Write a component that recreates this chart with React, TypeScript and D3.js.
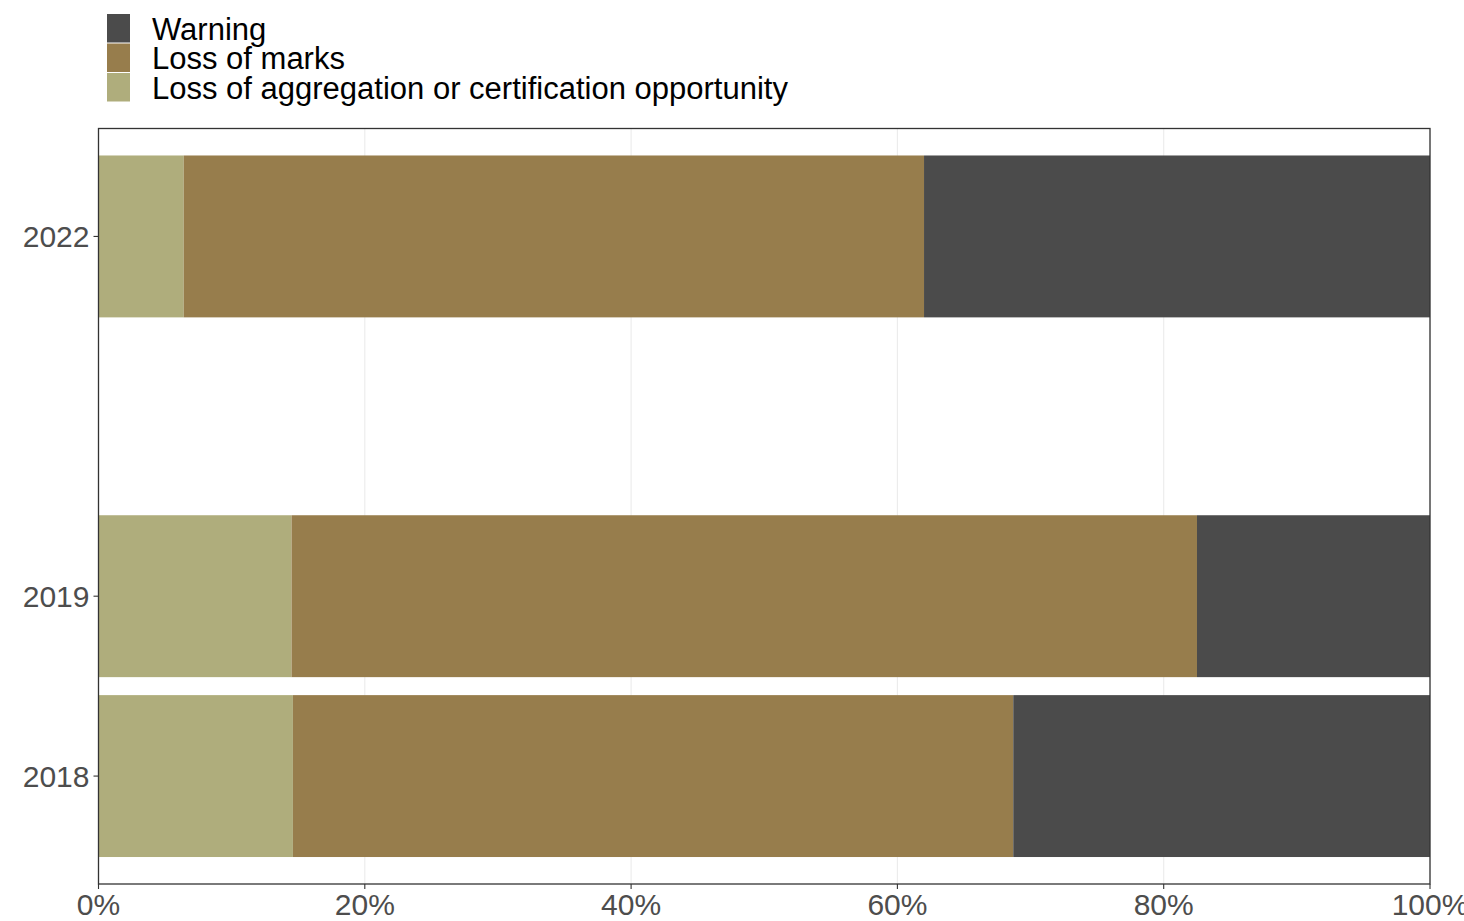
import React from "react";
import * as d3 from "d3";

const years = ["2018", "2019", "2022"];
const yearSlots = [0, 1, 3];
const aggregation = [14.6, 14.5, 6.4];
const marks = [54.1, 68.0, 55.6];
const warning = [31.3, 17.5, 38.0];
const seriesNames = ["Warning", "Loss of marks", "Loss of aggregation or certification opportunity"];
const seriesColors = ["#4b4b4b", "#977d4c", "#afad7c"];
const xTicks = [0, 20, 40, 60, 80, 100];

export default function App() {
  const W = 1464, H = 921;
  const left = 98.5, right = 1430, top = 128.5, bottom = 884;
  const x = d3.scaleLinear().domain([0, 100]).range([left, right]);
  const y = d3.scaleLinear().domain([-0.6, 3.6]).range([bottom, top]);
  const bw = y(-0.6) - y(0.3);

  const rows = years.map((yr, i) => {
    const segs = [
      { key: 2, v0: 0, v1: aggregation[i] },
      { key: 1, v0: aggregation[i], v1: aggregation[i] + marks[i] },
      { key: 0, v0: aggregation[i] + marks[i], v1: aggregation[i] + marks[i] + warning[i] },
    ];
    return { yr, slot: yearSlots[i], segs };
  });

  const font = "Arial, 'Liberation Sans', sans-serif";

  return (
    <svg width={W} height={H} style={{ position: "absolute", left: 0, top: 0, background: "#fff" }} fontFamily={font}>
      <rect x={0} y={0} width={W} height={H} fill="#fff" />
      {xTicks.map((t) => (
        <line key={t} x1={x(t)} x2={x(t)} y1={top} y2={bottom} stroke="#ebebeb" strokeWidth={1.1} />
      ))}
      {rows.map((r) =>
        r.segs.map((s) => (
          <rect
            key={r.yr + "-" + s.key}
            x={x(s.v0)}
            width={Math.min(x(s.v1), right) - x(s.v0)}
            y={y(r.slot) - bw / 2}
            height={bw}
            fill={seriesColors[s.key]}
          />
        ))
      )}
      <rect x={left} y={top} width={right - left} height={bottom - top} fill="none" stroke="#333" strokeWidth={1.3} />
      {xTicks.map((t) => (
        <g key={"xt" + t}>
          <line x1={x(t)} x2={x(t)} y1={bottom} y2={bottom + 5} stroke="#333" strokeWidth={1.1} />
          <text x={x(t)} y={bottom + 31} textAnchor="middle" fontSize={30} fill="#4d4d4d">
            {t + "%"}
          </text>
        </g>
      ))}
      {years.map((yr, i) => (
        <g key={"yt" + yr}>
          <line x1={left - 5} x2={left} y1={y(yearSlots[i])} y2={y(yearSlots[i])} stroke="#333" strokeWidth={1.1} />
          <text x={left - 9} y={y(yearSlots[i])} dy="0.35em" textAnchor="end" fontSize={30} fill="#4d4d4d">
            {yr}
          </text>
        </g>
      ))}
      {seriesNames.map((n, i) => (
        <g key={n}>
          <rect x={107} y={14 + i * 29.5} width={23} height={28.5} fill={seriesColors[i]} />
          <text x={152} y={14 + i * 29.5 + 14.5} dy="0.36em" fontSize={31} fill="#000">
            {n}
          </text>
        </g>
      ))}
    </svg>
  );
}
